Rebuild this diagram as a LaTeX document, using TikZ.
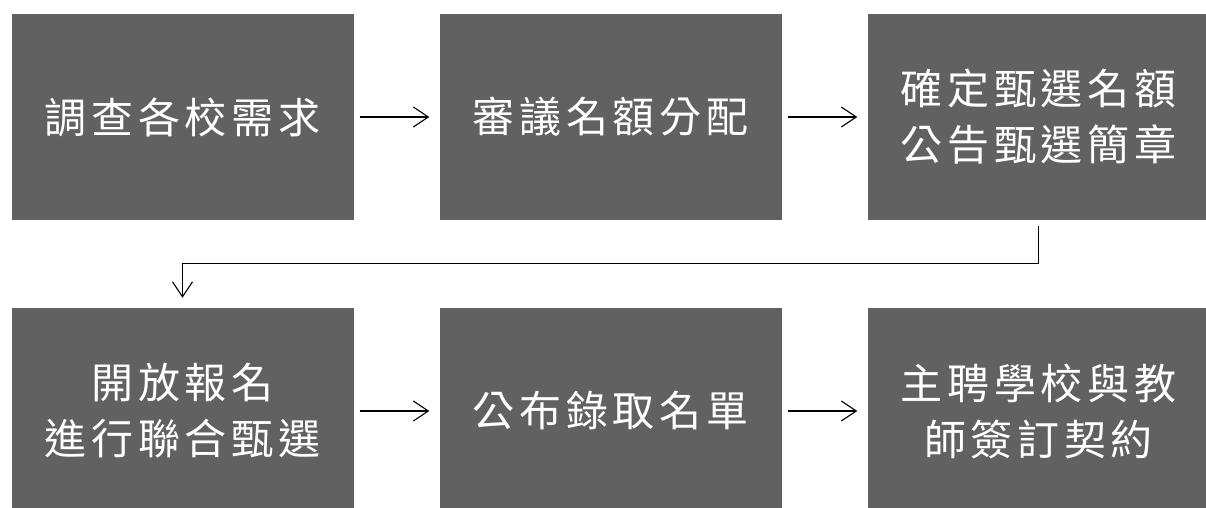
\documentclass[tikz,border=0pt]{standalone}
\usepackage{fontspec}
\setmainfont[LetterSpace=11]{Noto Sans CJK TC}
\usetikzlibrary{positioning,arrows.meta}

\begin{document}
\begin{tikzpicture}[x=1pt,y=1pt,node distance=294pt and 428pt,on grid,
	box/.style={rectangle,fill=black!62,text=white,inner sep=0pt,
		minimum width=342pt,minimum height=206pt,align=center,
		font=\fontsize{42pt}{56pt}\selectfont},
	flow/.style={-{Straight Barb[length=15pt,width=20pt]},line width=1.1pt,
		shorten <=6pt,shorten >=10pt}]
	\useasboundingbox (0,0) rectangle (1206,-507);
	\node[box] (survey) at (182.5,-117) {調查各校需求};
	\node[box] (review) [right=of survey] {審議名額分配};
	\node[box] (terms) [right=of review] {確定甄選名額\\公告甄選簡章};
	\node[box] (apply) [below=of survey] {開放報名\\進行聯合甄選};
	\node[box] (result) [right=of apply] {公布錄取名單};
	\node[box] (contract) [right=of result] {主聘學校與教\\師簽訂契約};
	\path[flow]
	(survey) edge (review)
	(review) edge (terms)
	(apply) edge (result)
	(result) edge (contract);
	\draw[flow] (terms.south) -- ++(0,-43) -| (apply.north);
\end{tikzpicture}
\end{document}
